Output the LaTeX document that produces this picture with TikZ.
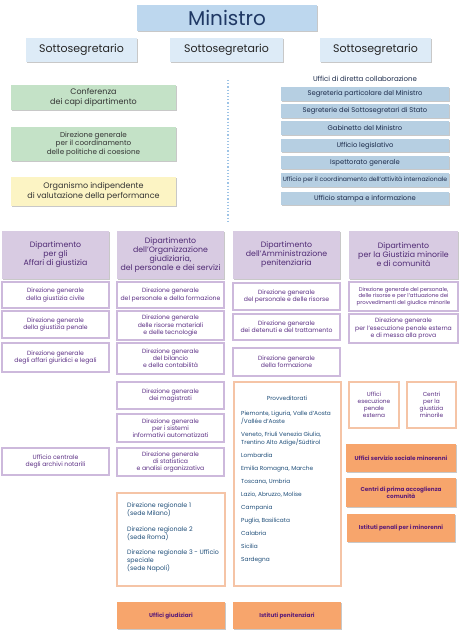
\documentclass[tikz,border=0pt]{standalone}
\usepackage{fontspec}
\setmainfont{Poppins}
\usetikzlibrary{shadows}
\definecolor{minfill}{HTML}{BDD7EE}
\definecolor{mintext}{HTML}{1F3864}
\definecolor{sotfill}{HTML}{DDEBF7}
\definecolor{sottext}{HTML}{262626}
\definecolor{grnfill}{HTML}{C4E2C7}
\definecolor{yelfill}{HTML}{FCF4C4}
\definecolor{darktext}{HTML}{333333}
\definecolor{uffill}{HTML}{B6CFE2}
\definecolor{uftext}{HTML}{1B2A4A}
\definecolor{dipfill}{HTML}{D8CBE2}
\definecolor{diptext}{HTML}{4F2A74}
\definecolor{wdraw}{HTML}{CDB9DC}
\definecolor{wtext}{HTML}{5B2E84}
\definecolor{odraw}{HTML}{F5C4A6}
\definecolor{ofill}{HTML}{F7A56C}
\definecolor{otext}{HTML}{5E1E78}
\definecolor{provtext}{HTML}{1F4E79}
\definecolor{dotline}{HTML}{9DC3E6}
\newcommand\bx[7]{%
  \pgfmathsetmacro\bw{#4-#2}\pgfmathsetmacro\bh{#5-#3}%
  \pgfmathsetmacro\bcx{(#2+#4)/2}\pgfmathsetmacro\bcy{(#3+#5)/2}%
  \node[#6, minimum width=\bw pt, minimum height=\bh pt] (#1) at (\bcx,\bcy) {#7};}
\tikzset{
  x=1pt, y=-1pt,
  box/.style={rectangle, inner sep=0.5pt, align=center,
    drop shadow={shadow xshift=0.6pt, shadow yshift=-1.2pt, opacity=0.3, fill=black!70}},
  minbox/.style={box, fill=minfill, text=mintext, font=\fontsize{20}{22}\selectfont},
  sotbox/.style={box, fill=sotfill, text=sottext, font=\fontsize{11}{13}\selectfont},
  grnbox/.style={box, fill=grnfill, text=darktext, font=\fontsize{7.2}{8.6}\selectfont},
  yelbox/.style={box, fill=yelfill, text=darktext, font=\fontsize{8}{9.6}\selectfont},
  ufbox/.style={box, fill=uffill, text=uftext, font=\fontsize{6.8}{8}\selectfont},
  dipbox/.style={box, fill=dipfill, text=diptext, font=\fontsize{7.8}{9}\selectfont},
  wbox/.style={box, fill=white, draw=wdraw, line width=1.2pt, text=wtext, font=\fontsize{6.1}{7.2}\selectfont},
  obox/.style={box, fill=white, draw=odraw, line width=1.2pt, text=wtext, font=\fontsize{5.8}{7}\selectfont},
  ofbox/.style={box, fill=ofill, text=otext, font=\fontsize{5.7}{7.2}\selectfont\bfseries},
  provlist/.style={inner sep=0pt, align=left, text=provtext, font=\fontsize{5.8}{8}\selectfont},
  reglist/.style={inner sep=0pt, align=left, text=provtext, font=\fontsize{6.3}{8}\selectfont},
  captext/.style={inner sep=0pt, text=uftext, font=\fontsize{7}{8}\selectfont}
}
\begin{document}
\begin{tikzpicture}
\useasboundingbox (0,0) rectangle (461,634);
\fill[white] (0,0) rectangle (461,634);
% top
\bx{min}{137}{5}{317}{31}{minbox}{Ministro}
\bx{sotl}{26}{38}{137}{62}{sotbox}{Sottosegretario}
\bx{sotm}{170}{38}{283}{62}{sotbox}{Sottosegretario}
\bx{sotr}{320}{38}{431}{62}{sotbox}{Sottosegretario}
% left upper
\bx{conf}{11}{85}{176}{110}{grnbox, font=\fontsize{8}{9.6}\selectfont}{Conferenza\\dei capi dipartimento}
\bx{coes}{11}{127}{176}{161}{grnbox}{Direzione generale\\per il coordinamento\\delle politiche di coesione}
\bx{oiv}{11}{177}{176}{206}{yelbox}{Organismo indipendente\\di valutazione della performance}
% dotted separator
\coordinate (dtop) at (228,80);
\coordinate (dbot) at (228,222);
\draw[dotline, line width=1.2pt, dotted] (dtop) -- (dbot);
% uffici di diretta collaborazione
\node[captext] (udc) at (365,79) {Uffici di diretta collaborazione};
\bx{u1}{281}{87}{449}{101}{ufbox}{Segreteria particolare del Ministro}
\bx{u2}{281}{104}{449}{118}{ufbox}{Segreterie dei Sottosegretari di Stato}
\bx{u3}{281}{121}{449}{135}{ufbox}{Gabinetto del Ministro}
\bx{u4}{281}{139}{449}{152}{ufbox}{Ufficio legislativo}
\bx{u5}{281}{156}{449}{169}{ufbox}{Ispettorato generale}
\bx{u6}{281}{173}{449}{187}{ufbox, font=\fontsize{6.1}{7}\selectfont}{Ufficio per il coordinamento dell'attività internazionale}
\bx{u7}{281}{192}{449}{205}{ufbox}{Ufficio stampa e informazione}
% dipartimenti
\bx{dA}{2}{231}{109}{279}{dipbox}{Dipartimento\\per gli\\Affari di giustizia}
\bx{dB}{117}{231}{224}{279}{dipbox}{Dipartimento\\dell'Organizzazione\\giudiziaria,\\del personale e dei servizi}
\bx{dC}{233}{231}{340}{279}{dipbox}{Dipartimento\\dell'Amministrazione\\penitenziaria}
\bx{dD}{349}{231}{458}{279}{dipbox}{Dipartimento\\per la Giustizia minorile\\e di comunità}
% column A
\bx{a1}{2}{282}{109}{308}{wbox}{Direzione generale\\della giustizia civile}
\bx{a2}{2}{311}{109}{338}{wbox}{Direzione generale\\della giustizia penale}
\bx{a3}{2}{343}{109}{372}{wbox}{Direzione generale\\degli affari giuridici e legali}
\bx{a4}{2}{448}{109}{475}{wbox}{Ufficio centrale\\degli archivi notarili}
% column B
\bx{b1}{117}{282}{224}{308}{wbox}{Direzione generale\\del personale e della formazione}
\bx{b2}{117}{311}{224}{340}{wbox}{Direzione generale\\delle risorse materiali\\e delle tecnologie}
\bx{b3}{117}{343}{224}{374}{wbox}{Direzione generale\\del bilancio\\e della contabilità}
\bx{b4}{117}{382}{224}{409}{wbox}{Direzione generale\\dei magistrati}
\bx{b5}{117}{414}{224}{442}{wbox}{Direzione generale\\per i sistemi\\informativi automatizzati}
\bx{b6}{117}{448}{224}{476}{wbox}{Direzione generale\\di statistica\\e analisi organizzativa}
% column C
\bx{c1}{233}{283}{340}{310}{wbox}{Direzione generale\\del personale e delle risorse}
\bx{c2}{233}{314}{340}{340}{wbox}{Direzione generale\\dei detenuti e del trattamento}
\bx{c3}{233}{348}{340}{376}{wbox}{Direzione generale\\della formazione}
% column D
\bx{d1}{349}{282}{458}{311}{wbox, font=\fontsize{5.4}{6.8}\selectfont}{Direzione generale del personale,\\delle risorse e per l'attuazione dei\\provvedimenti del giudice minorile}
\bx{d2}{349}{314}{458}{343}{wbox}{Direzione generale\\per l'esecuzione penale esterna\\e di messa alla prova}
% orange-bordered boxes
\bx{reg}{117}{493}{225}{586}{obox}{}
\node[reglist, anchor=north west] (regtext) at (127,502.5) {Direzione regionale 1\\(sede Milano)\\[8pt]Direzione regionale 2\\(sede Roma)\\[7pt]Direzione regionale 3 - Ufficio\\speciale\\(sede Napoli)};
\bx{prov}{234}{382}{341}{586}{obox}{}
\node[provlist, anchor=center] (provtitle) at (287,398) {Provveditorati};
\node[provlist, anchor=north west] (provtext) at (241,410.5) {Piemonte, Liguria, Valle d'Aosta\\/Vallée d'Aoste\\[5pt]Veneto, Friuli Venezia Giulia,\\Trentino Alto Adige/Südtirol\\[5pt]Lombardia\\[5pt]Emilia Romagna, Marche\\[5pt]Toscana, Umbria\\[5pt]Lazio, Abruzzo, Molise\\[5pt]Campania\\[5pt]Puglia, Basilicata\\[5pt]Calabria\\[5pt]Sicilia\\[5pt]Sardegna};
\bx{uepe}{349}{382}{399}{428}{obox}{Uffici\\esecuzione\\penale\\esterna}
\bx{cgm}{407}{382}{456}{428}{obox}{Centri\\per la\\giustizia\\minorile}
% orange filled boxes
\bx{ussm}{346}{444}{456}{472}{ofbox}{Uffici servizio sociale minorenni}
\bx{cpa}{346}{478}{456}{507}{ofbox}{Centri di prima accoglienza\\comunità}
\bx{ipm}{347}{514}{455}{542}{ofbox}{Istituti penali per i minorenni}
\bx{ug}{117}{602}{225}{629}{ofbox}{Uffici giudiziari}
\bx{ip}{233}{602}{341}{629}{ofbox}{Istituti penitenziari}
\end{tikzpicture}
\end{document}
